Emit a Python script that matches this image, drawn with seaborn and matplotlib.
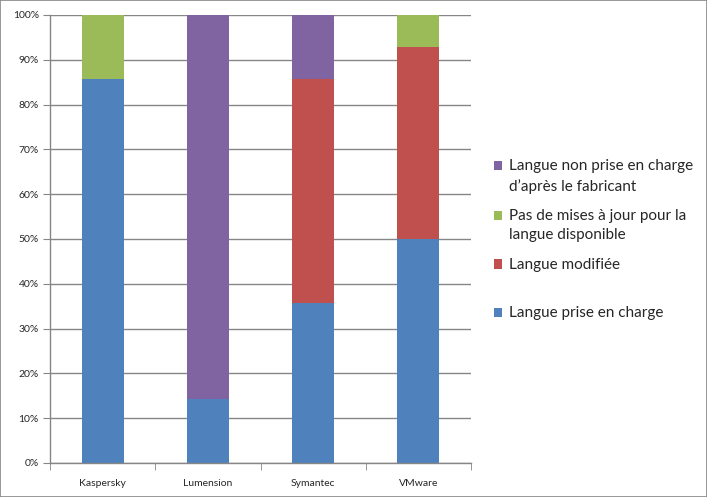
import matplotlib
matplotlib.use("Agg")
import matplotlib.pyplot as plt
from matplotlib.patches import Patch, Rectangle
from matplotlib.legend_handler import HandlerPatch
from matplotlib.ticker import FuncFormatter, FixedLocator
import numpy as np
import pandas as pd
import seaborn as sns

vendors = ["Kaspersky", "Lumension", "Symantec", "VMware"]
supported = [85.7, 14.3, 35.7, 50.0]
modified = [0.0, 0.0, 50.0, 42.9]
no_updates = [14.3, 0.0, 0.0, 7.1]
unsupported = [0.0, 85.7, 14.3, 0.0]

series_names = [
    "Langue prise en charge",
    "Langue modifiée",
    "Pas de mises à jour pour la\nlangue disponible",
    "Langue non prise en charge\nd\u2019après le fabricant",
]
series_values = [supported, modified, no_updates, unsupported]
colors = ["#4F81BD", "#C0504D", "#9BBB59", "#8064A2"]

sns.set_style("white")
plt.rcParams["font.family"] = ["Lato", "DejaVu Sans"]

fig = plt.figure(figsize=(7.07, 4.97), dpi=100)
ax = fig.add_axes([50 / 707, 34 / 497, 421 / 707, 448 / 497])

cum = np.cumsum(np.array(series_values), axis=0)
for i in range(len(series_values) - 1, -1, -1):
    df = pd.DataFrame({"vendor": vendors, "value": cum[i]})
    sns.barplot(data=df, x="vendor", y="value", color=colors[i], width=0.40,
                saturation=1, ax=ax, zorder=2, linewidth=0, edgecolor="none")

ax.set_xlim(-0.5, 3.5)
ax.set_ylim(0, 100)
ax.set_yticks(np.arange(0, 101, 10))
ax.yaxis.set_major_formatter(FuncFormatter(lambda v, p: f"{int(v)}%"))
ax.yaxis.grid(True, color="#868686", linewidth=1)
ax.set_axisbelow(True)
ax.set_xlabel("")
ax.set_ylabel("")
for s in ["top", "right"]:
    ax.spines[s].set_visible(False)
for s in ["left", "bottom"]:
    ax.spines[s].set_color("#868686")
    ax.spines[s].set_linewidth(1)

ax.tick_params(axis="y", which="major", left=True, length=5, color="#868686",
               labelsize=7.5, pad=3)
ax.tick_params(axis="x", which="major", bottom=False, labelsize=7.5, pad=8)
ax.xaxis.set_minor_locator(FixedLocator([-0.5, 0.5, 1.5, 2.5, 3.5]))
ax.tick_params(axis="x", which="minor", bottom=True, length=5, color="#868686")


class FirstLineHandler(HandlerPatch):
    def create_artists(self, legend, orig_handle, xdescent, ydescent, width,
                       height, fontsize, trans):
        shift = 0.68 * fontsize
        p = Rectangle((-xdescent, -ydescent + shift), width, height,
                      facecolor=orig_handle.get_facecolor(), edgecolor="none",
                      transform=trans)
        return [p]


order = [3, 2, 1, 0]
handles = [Patch(facecolor=colors[i], edgecolor="none") for i in order]
labels = []
for i in order:
    lab = series_names[i]
    if "\n" not in lab:
        lab = lab + "\n "
    labels.append(lab)

leg = fig.legend(handles, labels, loc="upper left",
                 bbox_to_anchor=(480 / 707, 1 - 145 / 497), frameon=False,
                 fontsize=11, handlelength=0.55, handleheight=0.55,
                 handletextpad=0.45, labelspacing=1.0,
                 handler_map={Patch: FirstLineHandler()})
for t in leg.get_texts():
    t.set_linespacing(1.5)

fig.patches.append(Rectangle((0.0007, 0.001), 0.9986, 0.998, transform=fig.transFigure,
                             fill=False, edgecolor="#868686", linewidth=1.2))

fig.savefig("out.png", dpi=100)
